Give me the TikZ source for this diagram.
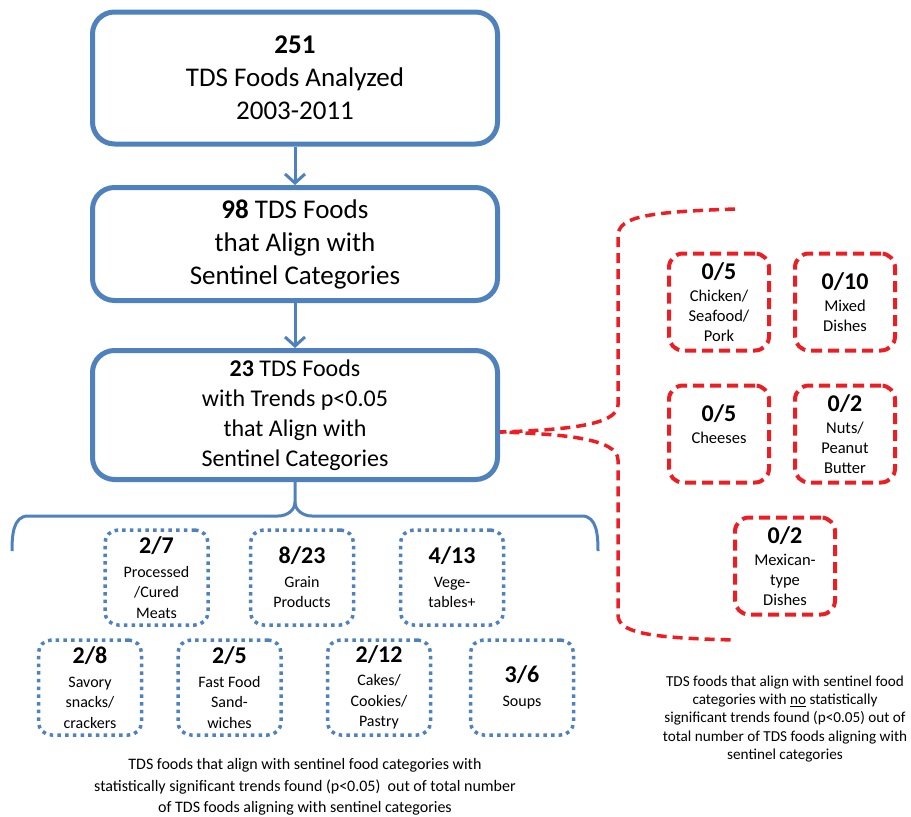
\documentclass[tikz,border=0pt]{standalone}
\usepackage{fontspec}
\setmainfont{Carlito}
\usepackage{tikz}
\usetikzlibrary{arrows.meta,positioning}
\definecolor{tdsblue}{RGB}{79,129,189}
\definecolor{tdsred}{RGB}{235,30,35}
\newcommand{\hitnum}[1]{{\fontsize{24}{24}\selectfont\bfseries #1}}
\tikzstyle{stage} = [draw=tdsblue, line width=5pt, rounded corners=22pt, fill=white,
	minimum width=405pt, align=center, font=\fontsize{27}{33}\selectfont]
\tikzstyle{sigbox} = [draw=tdsblue, line width=3.5pt, dash pattern=on 3.5pt off 4.2pt,
	rounded corners=13pt, minimum width=103pt, minimum height=95pt, inner sep=2pt,
	align=center, font=\fontsize{16}{20.5}\selectfont]
\tikzstyle{nobox} = [draw=tdsred, line width=4pt, dash pattern=on 11pt off 6pt,
	rounded corners=14pt, minimum width=100pt, minimum height=97pt, inner sep=2pt,
	align=center, font=\fontsize{16.5}{20}\selectfont]
\tikzstyle{note} = [align=center, inner sep=0pt]
\tikzstyle{brace} = [draw=tdsblue, line width=3pt]
\tikzstyle{redbrace} = [draw=tdsred, line width=3.5pt, dash pattern=on 10pt off 6pt]

\begin{document}
\begin{tikzpicture}[x=1pt, y=-1pt, >={Straight Barb[length=9pt,width=20pt]}]
	\useasboundingbox (0,0) rectangle (911,817);

	\node [stage, minimum height=132pt] (all) at (295,78) {\textbf{251}\\TDS Foods Analyzed\\2003-2011};
	\node [stage, minimum height=113pt] (align) at (295,244) {\textbf{98} TDS Foods\\that Align with\\Sentinel Categories};
	\node [stage, minimum height=129pt, font=\fontsize{24}{30}\selectfont] (trend) at (295,415)
		{\textbf{23} TDS Foods\\with Trends p<0.05\\that Align with\\Sentinel Categories};

	\draw[->, draw=tdsblue, line width=3pt] (all) -- (align);
	\draw[->, draw=tdsblue, line width=3pt] (align) -- (trend);

	% trends found
	\node [sigbox] (meat) at (156.5,577.5) {\hitnum{2/7}\\[3pt]Processed\\/Cured\\Meats};
	\node [sigbox] (grain) at (302,577.5) {\hitnum{8/23}\\[3pt]Grain\\Products};
	\node [sigbox] (veg) at (452,577.5) {\hitnum{4/13}\\[3pt]Vege-\\tables+};
	\node [sigbox] (snack) at (90,687.5) {\hitnum{2/8}\\[3pt]Savory\\snacks/\\crackers};
	\node [sigbox] (fast) at (229.5,687.5) {\hitnum{2/5}\\[3pt]Fast Food\\Sand-\\wiches};
	\node [sigbox] (cake) at (379,687.5) {\hitnum{2/12}\\[3pt]Cakes/\\Cookies/\\Pastry};
	\node [sigbox] (soup) at (522,687.5) {\hitnum{3/6}\\[3pt]Soups};

	\coordinate (bm) at (295,502);
	\draw[brace] (12,551) to[out=90,in=180] (28,516) -- (278,516) to[out=0,in=-90] (bm) -- (trend.south);
	\draw[brace] (598,551) to[out=90,in=0] (582,516) -- (312,516) to[out=180,in=-90] (bm);

	% no trends found
	\node [nobox] (meat0) at (719,302) {\hitnum{0/5}\\[2pt]Chicken/\\Seafood/\\Pork};
	\node [nobox] (mixed) at (845,302) {\hitnum{0/10}\\[2pt]Mixed\\Dishes};
	\node [nobox] (cheese) at (719,434) {\hitnum{0/5}\\[2pt]Cheeses\\~};
	\node [nobox] (nuts) at (845,434) {\hitnum{0/2}\\[2pt]Nuts/\\Peanut\\Butter};
	\node [nobox] (mex) at (785,566) {\hitnum{0/2}\\[2pt]Mexican-\\type\\Dishes};

	\coordinate (rtip) at ([yshift=-17pt]trend.east);
	\draw[redbrace] (735,209) .. controls (650,212) and (618,216) .. (618,236) -- (618,405)
		.. controls (618,426) and (560,430) .. (rtip)
		.. controls (560,434) and (618,438) .. (618,460) -- (618,615)
		.. controls (618,633) and (650,638) .. (735,640);

	\node [note, font=\fontsize{16}{21.5}\selectfont] (hitnote) at (305,787)
		{TDS foods that align with sentinel food categories with\\statistically significant trends found (p<0.05)~~out of total number\\of TDS foods aligning with sentinel categories};
	\node [note, font=\fontsize{15.2}{18.3}\selectfont] (nonote) at (785,719)
		{TDS foods that align with sentinel food\\categories with \underline{no} statistically\\significant trends found (p<0.05) out of\\total number of TDS foods aligning with\\sentinel categories};
\end{tikzpicture}
\end{document}
